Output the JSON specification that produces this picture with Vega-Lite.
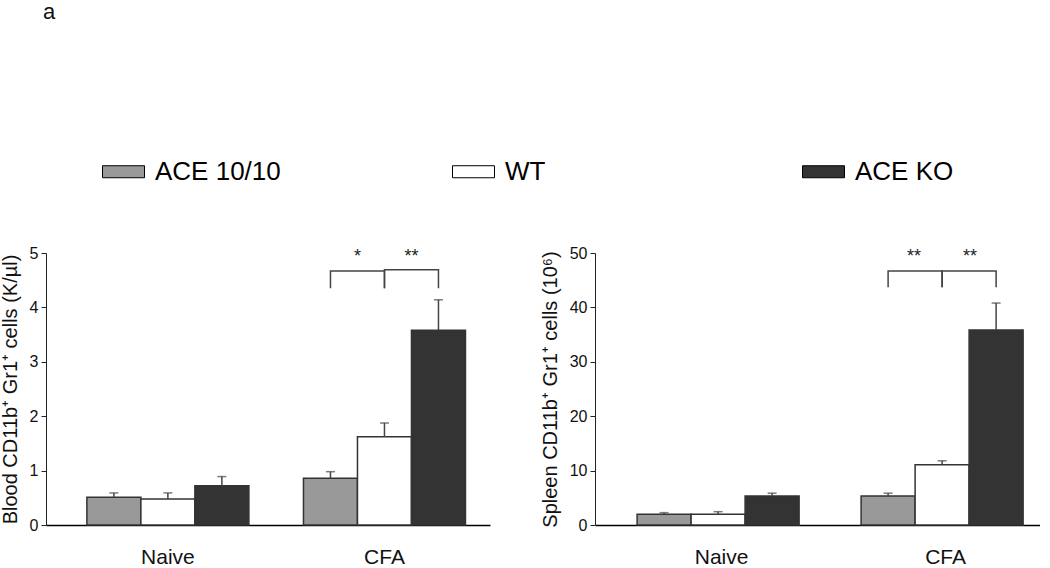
{
  "$schema": "https://vega.github.io/schema/vega-lite/v6.json",
  "background": "white",
  "padding": {"left": 0, "right": 0, "top": 1, "bottom": 0},
  "title": {"text": "a", "anchor": "start", "fontSize": 22, "fontWeight": "normal", "font": "Liberation Sans", "color": "#111", "offset": 126, "dx": 43},
  "config": {
    "font": "Liberation Sans",
    "view": {"stroke": null},
    "axis": {"domainColor": "#222", "tickColor": "#222", "labelColor": "#111", "titleColor": "#111", "labelFont": "Liberation Sans", "titleFont": "Liberation Sans", "grid": false, "titleFontWeight": "normal"},
    "legend": {"orient": "none", "legendX": 56, "legendY": -103, "direction": "horizontal", "symbolType": "M-1,-0.286H1V0.286H-1Z", "symbolSize": 1764, "labelFontSize": 26, "labelOffset": 10, "columnPadding": 169, "gridAlign": "all", "symbolStrokeColor": "#000", "symbolStrokeWidth": 1, "labelFont": "Liberation Sans", "labelColor": "#000", "labelLimit": 300}
  },
  "datasets": {
    "bars": [
      {"panel": "Blood", "group": "Naive", "geno": "ACE 10/10", "mean": 0.51, "upper": 0.59},
      {"panel": "Blood", "group": "Naive", "geno": "WT", "mean": 0.48, "upper": 0.59},
      {"panel": "Blood", "group": "Naive", "geno": "ACE KO", "mean": 0.72, "upper": 0.89},
      {"panel": "Blood", "group": "CFA", "geno": "ACE 10/10", "mean": 0.86, "upper": 0.98},
      {"panel": "Blood", "group": "CFA", "geno": "WT", "mean": 1.62, "upper": 1.875},
      {"panel": "Blood", "group": "CFA", "geno": "ACE KO", "mean": 3.58, "upper": 4.14},
      {"panel": "Spleen", "group": "Naive", "geno": "ACE 10/10", "mean": 1.97, "upper": 2.27},
      {"panel": "Spleen", "group": "Naive", "geno": "WT", "mean": 1.97, "upper": 2.45},
      {"panel": "Spleen", "group": "Naive", "geno": "ACE KO", "mean": 5.35, "upper": 5.85},
      {"panel": "Spleen", "group": "CFA", "geno": "ACE 10/10", "mean": 5.35, "upper": 5.85},
      {"panel": "Spleen", "group": "CFA", "geno": "WT", "mean": 11.07, "upper": 11.8},
      {"panel": "Spleen", "group": "CFA", "geno": "ACE KO", "mean": 35.85, "upper": 40.8}
    ],
    "brackets": [
      {"panel": "Blood", "bracket": 1, "ord": 1, "group": "CFA", "geno": "ACE 10/10", "y": 4.35},
      {"panel": "Blood", "bracket": 1, "ord": 2, "group": "CFA", "geno": "ACE 10/10", "y": 4.67},
      {"panel": "Blood", "bracket": 1, "ord": 3, "group": "CFA", "geno": "WT", "y": 4.67},
      {"panel": "Blood", "bracket": 1, "ord": 4, "group": "CFA", "geno": "WT", "y": 4.35},
      {"panel": "Blood", "bracket": 2, "ord": 1, "group": "CFA", "geno": "WT", "y": 4.35},
      {"panel": "Blood", "bracket": 2, "ord": 2, "group": "CFA", "geno": "WT", "y": 4.69},
      {"panel": "Blood", "bracket": 2, "ord": 3, "group": "CFA", "geno": "ACE KO", "y": 4.69},
      {"panel": "Blood", "bracket": 2, "ord": 4, "group": "CFA", "geno": "ACE KO", "y": 4.35},
      {"panel": "Spleen", "bracket": 1, "ord": 1, "group": "CFA", "geno": "ACE 10/10", "y": 43.7},
      {"panel": "Spleen", "bracket": 1, "ord": 2, "group": "CFA", "geno": "ACE 10/10", "y": 46.7},
      {"panel": "Spleen", "bracket": 1, "ord": 3, "group": "CFA", "geno": "WT", "y": 46.7},
      {"panel": "Spleen", "bracket": 1, "ord": 4, "group": "CFA", "geno": "WT", "y": 43.7},
      {"panel": "Spleen", "bracket": 2, "ord": 1, "group": "CFA", "geno": "WT", "y": 43.7},
      {"panel": "Spleen", "bracket": 2, "ord": 2, "group": "CFA", "geno": "WT", "y": 46.7},
      {"panel": "Spleen", "bracket": 2, "ord": 3, "group": "CFA", "geno": "ACE KO", "y": 46.7},
      {"panel": "Spleen", "bracket": 2, "ord": 4, "group": "CFA", "geno": "ACE KO", "y": 43.7}
    ],
    "stars": [
      {"panel": "Blood", "side": "left", "group": "CFA", "geno": "WT", "y": 4.93, "label": "*"},
      {"panel": "Blood", "side": "right", "group": "CFA", "geno": "WT", "y": 4.93, "label": "**"},
      {"panel": "Spleen", "side": "left", "group": "CFA", "geno": "WT", "y": 49.3, "label": "**"},
      {"panel": "Spleen", "side": "right", "group": "CFA", "geno": "WT", "y": 49.3, "label": "**"}
    ]
  },
  "spacing": 50,
  "hconcat": [
    {
      "width": 444,
      "height": 272,
      "encoding": {
        "x": {"field": "group", "type": "nominal", "sort": ["Naive", "CFA"], "title": null,
              "scale": {"paddingInner": 0.252, "paddingOuter": 0.151, "align": 0.625},
              "axis": {"labelAngle": 0, "labelFontSize": 21, "ticks": false, "labelPadding": 21, "domainColor": "#000", "domainWidth": 1.5}},
        "xOffset": {"field": "geno", "type": "nominal", "sort": ["ACE 10/10", "WT", "ACE KO"]}
      },
      "layer": [
        {
          "data": {"name": "bars"},
          "transform": [{"filter": "datum.panel === 'Blood'"}],
          "mark": {"type": "bar", "stroke": "#333", "strokeWidth": 1.5},
          "encoding": {
            "y": {"field": "mean", "type": "quantitative", "scale": {"domain": [0, 5]},
                  "axis": {"title": "Blood CD11b⁺ Gr1⁺ cells (K/µl)", "values": [0, 1, 2, 3, 4, 5], "labelFontSize": 16, "titleFontSize": 20, "tickSize": 5, "labelPadding": 3, "titlePadding": 9}},
            "color": {"field": "geno", "type": "nominal", "sort": ["ACE 10/10", "WT", "ACE KO"],
                      "scale": {"domain": ["ACE 10/10", "WT", "ACE KO"], "range": ["#999999", "#ffffff", "#333333"]},
                      "legend": {"title": null}}
          }
        },
        {
          "data": {"name": "bars"},
          "transform": [{"filter": "datum.panel === 'Blood'"}],
          "mark": {"type": "rule", "color": "#444", "strokeWidth": 1.5},
          "encoding": {"y": {"field": "mean", "type": "quantitative"}, "y2": {"field": "upper"}}
        },
        {
          "data": {"name": "bars"},
          "transform": [{"filter": "datum.panel === 'Blood'"}],
          "mark": {"type": "tick", "color": "#444", "thickness": 1.5, "size": 9},
          "encoding": {"y": {"field": "upper", "type": "quantitative"}}
        },
        {
          "data": {"name": "brackets"},
          "transform": [{"filter": "datum.panel === 'Blood'"}],
          "mark": {"type": "line", "color": "#444", "strokeWidth": 1.5},
          "encoding": {"y": {"field": "y", "type": "quantitative"}, "detail": {"field": "bracket"}, "order": {"field": "ord"}}
        },
        {
          "data": {"name": "stars"},
          "transform": [{"filter": "datum.panel === 'Blood' && datum.side === 'left'"}],
          "mark": {"type": "text", "dx": -27, "fontSize": 18, "baseline": "middle", "color": "#222"},
          "encoding": {"y": {"field": "y", "type": "quantitative"}, "text": {"field": "label"}}
        },
        {
          "data": {"name": "stars"},
          "transform": [{"filter": "datum.panel === 'Blood' && datum.side === 'right'"}],
          "mark": {"type": "text", "dx": 27, "fontSize": 18, "baseline": "middle", "color": "#222"},
          "encoding": {"y": {"field": "y", "type": "quantitative"}, "text": {"field": "label"}}
        }
      ]
    },
    {
      "width": 445,
      "height": 272,
      "encoding": {
        "x": {"field": "group", "type": "nominal", "sort": ["Naive", "CFA"], "title": null,
              "scale": {"paddingInner": 0.2455, "paddingOuter": 0.116, "align": 0.81},
              "axis": {"labelAngle": 0, "labelFontSize": 21, "ticks": false, "labelPadding": 21, "domainColor": "#000", "domainWidth": 1.5}},
        "xOffset": {"field": "geno", "type": "nominal", "sort": ["ACE 10/10", "WT", "ACE KO"]}
      },
      "layer": [
        {
          "data": {"name": "bars"},
          "transform": [{"filter": "datum.panel === 'Spleen'"}],
          "mark": {"type": "bar", "stroke": "#333", "strokeWidth": 1.5},
          "encoding": {
            "y": {"field": "mean", "type": "quantitative", "scale": {"domain": [0, 50]},
                  "axis": {"title": "Spleen CD11b⁺ Gr1⁺ cells (10⁶)", "values": [0, 10, 20, 30, 40, 50], "labelFontSize": 16, "titleFontSize": 20, "tickSize": 5, "labelPadding": 3, "titlePadding": 9}},
            "color": {"field": "geno", "type": "nominal", "sort": ["ACE 10/10", "WT", "ACE KO"],
                      "scale": {"domain": ["ACE 10/10", "WT", "ACE KO"], "range": ["#999999", "#ffffff", "#333333"]},
                      "legend": {"title": null}}
          }
        },
        {
          "data": {"name": "bars"},
          "transform": [{"filter": "datum.panel === 'Spleen'"}],
          "mark": {"type": "rule", "color": "#444", "strokeWidth": 1.5},
          "encoding": {"y": {"field": "mean", "type": "quantitative"}, "y2": {"field": "upper"}}
        },
        {
          "data": {"name": "bars"},
          "transform": [{"filter": "datum.panel === 'Spleen'"}],
          "mark": {"type": "tick", "color": "#444", "thickness": 1.5, "size": 9},
          "encoding": {"y": {"field": "upper", "type": "quantitative"}}
        },
        {
          "data": {"name": "brackets"},
          "transform": [{"filter": "datum.panel === 'Spleen'"}],
          "mark": {"type": "line", "color": "#444", "strokeWidth": 1.5},
          "encoding": {"y": {"field": "y", "type": "quantitative"}, "detail": {"field": "bracket"}, "order": {"field": "ord"}}
        },
        {
          "data": {"name": "stars"},
          "transform": [{"filter": "datum.panel === 'Spleen' && datum.side === 'left'"}],
          "mark": {"type": "text", "dx": -28, "fontSize": 18, "baseline": "middle", "color": "#222"},
          "encoding": {"y": {"field": "y", "type": "quantitative"}, "text": {"field": "label"}}
        },
        {
          "data": {"name": "stars"},
          "transform": [{"filter": "datum.panel === 'Spleen' && datum.side === 'right'"}],
          "mark": {"type": "text", "dx": 28, "fontSize": 18, "baseline": "middle", "color": "#222"},
          "encoding": {"y": {"field": "y", "type": "quantitative"}, "text": {"field": "label"}}
        }
      ]
    }
  ]
}
